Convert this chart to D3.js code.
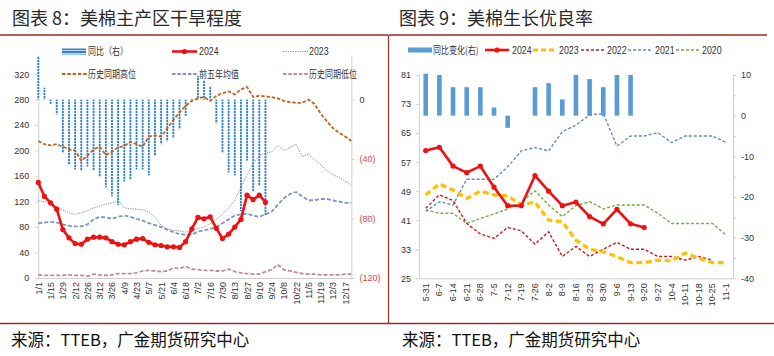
<!DOCTYPE html>
<html><head><meta charset="utf-8">
<script src="https://cdn.jsdelivr.net/npm/d3@7"></script>
<style>
body{margin:0;background:#fff;}
svg{display:block;}
text{font-family:"Liberation Sans",Arial,sans-serif;}
</style></head><body>
<svg id="c" width="774" height="356"></svg>
<script>
// ---------- Data: 图表8 美棉主产区干旱程度 ----------
const weeks = ("1/1 1/8 1/15 1/22 1/29 2/5 2/12 2/19 2/26 3/5 3/12 3/19 3/26 4/2 4/9 4/16 4/23 4/30 " +
  "5/7 5/14 5/21 5/28 6/4 6/11 6/18 6/25 7/2 7/9 7/16 7/23 7/30 8/6 8/13 8/20 8/27 9/3 9/10 9/17 9/24 " +
  "10/1 10/8 10/15 10/22 10/29 11/5 11/12 11/19 11/26 12/3 12/10 12/17 12/24").split(" ");
const dryYoY = [29, 8, -3, -10, -36, -44, -47, -48, -45, -48, -52, -59, -65, -71, -55, -54, -47, -47, -51, -38,
  -30, -28, -26, -20, -11, 1, 16, 13, 9, -16, -36, -49, -51, -75, -41, -62, -58, -78];
const dry2024 = [150, 128, 118, 108, 76, 63, 54, 53, 61, 64, 64, 63, 57, 53, 52, 57, 61, 62, 56, 52,
  51, 49, 49, 48, 57, 77, 95, 93, 96, 78, 62, 69, 80, 92, 130, 123, 130, 119];
const dry2023 = [121, 120, 117, 112, 107, 102, 100, 102, 106, 110, 113, 116, 118, 122, 110, 109, 108, 107, 104, 95,
  83, 77, 75, 74, 72, 74, 78, 80, 85, 92, 100, 110, 122, 142, 162, 180, 192, 196, 198, 208,
  200, 205, 210, 190, 195, 185, 178, 168, 162, 158, 152, 146];
const dryHigh = [215, 210, 208, 210, 206, 202, 200, 184, 192, 202, 206, 193, 198, 205, 207, 214, 210, 206, 222, 224,
  222, 235, 248, 260, 270, 278, 282, 284, 278, 286, 290, 293, 288, 296, 300, 284, 286, 285, 284, 282,
  278, 276, 275, 275, 280, 273, 258, 246, 235, 228, 222, 215];
const dryAvg5 = [86, 87, 88, 87, 84, 82, 81, 81, 84, 92, 96, 95, 93, 96, 98, 96, 93, 90, 86, 83,
  80, 76, 72, 69, 68, 68, 73, 75, 77, 80, 86, 92, 98, 100, 101, 98, 96, 100, 104, 115,
  125, 132, 135, 128, 122, 122, 124, 124, 122, 120, 118, 118];
const dryLow = [5, 4, 4, 4, 4, 5, 4, 4, 3, 6, 5, 4, 5, 7, 7, 7, 8, 11, 12, 11,
  10, 11, 16, 15, 18, 14, 13, 12, 12, 11, 11, 14, 10, 8, 7, 6, 6, 10, 13, 21,
  13, 11, 9, 7, 6, 6, 5, 5, 5, 5, 6, 6];
const dryLeftTicks = [0, 40, 80, 120, 160, 200, 240, 280, 320];
const dryRightTicks = [-120, -80, -40, 0];

// ---------- Data: 图表9 美棉生长优良率 ----------
const gDates = ["5-31","6-7","6-14","6-21","6-28","7-5","7-12","7-19","7-26","8-2","8-9","8-16",
  "8-23","8-30","9-6","9-13","9-20","9-27","10-4","10-11","10-18","10-25","11-1"];
const gYoY  = [10.3, 10, 7, 7, 7, 2, -3, 0, 7, 8, 4, 10, 9, 7, 10, 10];
const g2024 = [60.2, 61.1, 55.9, 54.1, 55.9, 50.1, 45, 45, 53.3, 49, 45, 46, 42, 40, 44, 40, 39];
const g2023 = [48, 51, 49.3, 47, 49, 48, 47.7, 45.2, 46, 41, 40.6, 35.5, 33, 32.3, 31, 29.3, 29.3, 30, 29.8, 32, 30.5, 29.3, 29.3];
const g2022 = [44.3, 48, 46.4, 40.1, 37.2, 36, 39, 38.1, 34.4, 37.8, 31, 33.8, 31, 33, 34.9, 33, 33, 31, 31, 30, 31, 30];
const g2021 = [43.4, 46.1, 45.2, 52.3, 52.3, 52.3, 55.7, 60.1, 61, 60.1, 65.4, 67.2, 70, 70.4, 61.4, 64.2, 64.2, 65.1, 62.4, 64.2, 64.2, 64.2, 62.4];
const g2020 = [43.8, 42.9, 42.9, 40.1, 41.5, 42.7, 44.1, 46.1, 49.1, 45.2, 42, 45, 46.1, 44.1, 45.2, 45.2, 45.2, 42.9, 40.1, 40.1, 40.1, 40.1, 36.9];
const gLeftTicks = [25, 33, 41, 49, 57, 65, 73, 81];
const gRightTicks = [-40, -35, -30, -25, -20, -15, -10, -5, 0, 5, 10];

// ---------- Drawing ----------
const svg = d3.select("#c");
const FRAME = "#9E2A2B";
const AX = "#D0D0D0";
const TXT = "#333";
const CJK = '"Noto Sans CJK SC","Liberation Sans",sans-serif';
const NARROW = '"Liberation Sans Narrow","Liberation Sans",Arial,sans-serif';

// frame
svg.append("line").attr("x1", 0).attr("x2", 388).attr("y1", 35).attr("y2", 35).attr("stroke", FRAME).attr("stroke-width", 1.3);
svg.append("line").attr("x1", 389).attr("x2", 767).attr("y1", 35).attr("y2", 35).attr("stroke", FRAME).attr("stroke-width", 1.3);
svg.append("line").attr("x1", 388.5).attr("x2", 388.5).attr("y1", 35).attr("y2", 323).attr("stroke", FRAME).attr("stroke-width", 1.2);
svg.append("line").attr("x1", 0).attr("x2", 774).attr("y1", 323.5).attr("y2", 323.5).attr("stroke", FRAME).attr("stroke-width", 1.3);

// titles & footers
function bigText(x, y, s) {
  svg.append("text").attr("x", x).attr("y", y).text(s)
    .style("font-family", CJK).attr("font-size", 18).attr("fill", "#2a2a2a");
}
bigText(12, 25, "图表 8：美棉主产区干旱程度");
bigText(399, 25, "图表 9：美棉生长优良率");
function footText(x, y, s) {
  svg.append("text").attr("x", x).attr("y", y).text(s)
    .style("font-family", CJK).attr("font-size", 16.5).attr("fill", "#111");
}
footText(11, 346, "来源：TTEB，广金期货研究中心");
footText(402, 346, "来源：TTEB，广金期货研究中心");

// squeezed legend text
function legText(g, x, y, s, cjk) {
  g.append("text").attr("transform", `translate(${x},${y}) scale(0.8,1)`)
    .attr("dy", "0.35em").text(s)
    .style("font-family", cjk ? CJK : NARROW)
    .attr("font-size", cjk ? 10 : 11).attr("fill", TXT);
}

// ================= Left chart =================
const L = svg.append("g");
const xL = d3.scalePoint().domain(weeks).range([38.3, 351.4]);
const yL = d3.scaleLinear().domain([0, 350]).range([278, 55]);
const yR = d3.scaleLinear().domain([-120, 30]).range([278, 55]);

// bar pattern (dotted blue fill)
const defs = svg.append("defs");
const pat = defs.append("pattern").attr("id", "barpat").attr("patternUnits", "userSpaceOnUse")
  .attr("width", 3).attr("height", 3);
pat.append("rect").attr("width", 3).attr("height", 2).attr("fill", "#2F80C6");
pat.append("rect").attr("y", 2).attr("width", 3).attr("height", 1).attr("fill", "#C4DCF1");

// axes
const axL = L.append("g").attr("transform", `translate(${xL.range()[0]},0)`)
  .call(d3.axisLeft(yL).tickValues(dryLeftTicks).tickSize(3).tickSizeOuter(0).tickPadding(6));
const axR = L.append("g").attr("transform", `translate(${xL.range()[1]},0)`)
  .call(d3.axisRight(yR).tickValues(dryRightTicks).tickSize(3).tickSizeOuter(0).tickPadding(5)
    .tickFormat(d => d < 0 ? `(${-d})` : d));
axR.selectAll(".tick text").attr("fill", d => d < 0 ? "#E0453C" : TXT);
const axB = L.append("g").attr("transform", `translate(0,${yL(0)})`)
  .call(d3.axisBottom(xL).tickValues(weeks.filter((d, i) => i % 2 === 0)).tickSize(0).tickSizeOuter(0));
axB.selectAll(".tick text").attr("transform", "translate(0,4) rotate(-90)")
  .attr("text-anchor", "end").attr("x", 0).attr("y", 0).attr("dy", "0.33em");
[axL, axR, axB].forEach(a => {
  a.select(".domain").attr("stroke", AX);
  a.selectAll(".tick line").attr("stroke", AX);
  a.selectAll(".tick text").attr("font-size", 9).style("font-family", '"Liberation Sans",Arial,sans-serif');
});
axL.selectAll(".tick text").attr("fill", TXT);
axB.selectAll(".tick text").attr("fill", TXT);

// bars (right axis)
L.append("g").selectAll("rect").data(dryYoY).join("rect")
  .attr("x", (d, i) => xL(weeks[i]) - 0.9)
  .attr("width", 1.8)
  .attr("y", d => Math.min(yR(d), yR(0)))
  .attr("height", d => Math.abs(yR(d) - yR(0)))
  .attr("fill", "url(#barpat)");

const lineL = d3.line().x((d, i) => xL(weeks[i])).y(d => yL(d));
function pathL(data, color, w, dash) {
  L.append("path").datum(data).attr("d", lineL).attr("fill", "none")
    .attr("stroke", color).attr("stroke-width", w).attr("stroke-dasharray", dash)
    .attr("stroke-linejoin", "round");
}
pathL(dryLow, "#C7879A", 1.8, "4,2");
pathL(dryAvg5, "#7C96C2", 1.8, "4,2");
pathL(dry2023, "#808080", 0.9, "1.2,1.2");
pathL(dryHigh, "#C2631F", 1.8, "3.5,1.8");
pathL(dry2024, "#F01010", 2.6, null);
L.append("g").selectAll("circle").data(dry2024).join("circle")
  .attr("cx", (d, i) => xL(weeks[i])).attr("cy", d => yL(d)).attr("r", 2.6).attr("fill", "#F01010");

// legend left
const LG = svg.append("g");
LG.append("rect").attr("x", 62).attr("y", 48.5).attr("width", 24).attr("height", 6).attr("fill", "url(#barpat)");
legText(LG, 88, 51.5, "同比（右）", true);
LG.append("line").attr("x1", 172).attr("x2", 197).attr("y1", 51.5).attr("y2", 51.5).attr("stroke", "#F01010").attr("stroke-width", 2.6);
LG.append("circle").attr("cx", 184.5).attr("cy", 51.5).attr("r", 2.6).attr("fill", "#F01010");
legText(LG, 199, 51.5, "2024", false);
LG.append("line").attr("x1", 283).attr("x2", 308).attr("y1", 51.5).attr("y2", 51.5).attr("stroke", "#808080").attr("stroke-width", 0.9).attr("stroke-dasharray", "1.2,1.2");
legText(LG, 309, 51.5, "2023", false);
const row2 = [["历史同期高位", "#C2631F", 62, 88], ["前五年均值", "#7C96C2", 172, 199], ["历史同期低位", "#C7879A", 283, 309]];
row2.forEach(([t, c, x0, tx]) => {
  LG.append("line").attr("x1", x0).attr("x2", x0 + 25).attr("y1", 74).attr("y2", 74)
    .attr("stroke", c).attr("stroke-width", 1.8).attr("stroke-dasharray", "3.5,1.8");
  legText(LG, tx, 74, t, true);
});

// ================= Right chart =================
const R = svg.append("g");
const xG = d3.scaleBand().domain(gDates).range([418.9, 733]);
const cx = d => xG(d) + xG.bandwidth() / 2;
const yG = d3.scaleLinear().domain([25, 81]).range([278.3, 75]);
const yC = d3.scaleLinear().domain([-40, 10]).range([278.3, 75]);

const gaL = R.append("g").attr("transform", `translate(418.9,0)`)
  .call(d3.axisLeft(yG).tickValues(gLeftTicks).tickSize(3).tickSizeOuter(0).tickPadding(5));
const gaR = R.append("g").attr("transform", `translate(733,0)`)
  .call(d3.axisRight(yC).tickValues(gRightTicks).tickSize(3).tickSizeOuter(0).tickPadding(5)
    .tickFormat(d => d % 10 === 0 ? d : ""));
const gaB = R.append("g").attr("transform", `translate(0,${yG(25)})`)
  .call(d3.axisBottom(xG).tickSize(0).tickSizeOuter(0));
gaB.selectAll(".tick text").attr("transform", "translate(0,5) rotate(-90)")
  .attr("text-anchor", "end").attr("x", 0).attr("y", 0).attr("dy", "0.33em");
[gaL, gaR, gaB].forEach(a => {
  a.select(".domain").attr("stroke", AX);
  a.selectAll(".tick line").attr("stroke", AX);
  a.selectAll(".tick text").attr("font-size", 9).attr("fill", TXT)
    .style("font-family", '"Liberation Sans",Arial,sans-serif');
});

// bars
R.append("g").selectAll("rect").data(gYoY).join("rect")
  .attr("x", (d, i) => cx(gDates[i]) - 2.3)
  .attr("width", 4.6)
  .attr("y", d => Math.min(yC(d), yC(0)))
  .attr("height", d => Math.abs(yC(d) - yC(0)))
  .attr("fill", "#5B9BD5");

const lineG = d3.line().x((d, i) => cx(gDates[i])).y(d => yG(d));
function pathG(data, color, w, dash) {
  R.append("path").datum(data).attr("d", lineG).attr("fill", "none")
    .attr("stroke", color).attr("stroke-width", w).attr("stroke-dasharray", dash)
    .attr("stroke-linejoin", "round");
}
pathG(g2020, "#70AD47", 1.4, "3,2");
pathG(g2021, "#5A8DC6", 1.4, "3,2");
pathG(g2022, "#D01818", 1.4, "3,2");
pathG(g2023, "#FFC000", 3.2, "6,3.5");
pathG(g2024, "#F01010", 2.6, null);
R.append("g").selectAll("circle").data(g2024).join("circle")
  .attr("cx", (d, i) => cx(gDates[i])).attr("cy", d => yG(d)).attr("r", 2.6).attr("fill", "#F01010");

// legend right
const RG = svg.append("g");
const ly = 50;
RG.append("rect").attr("x", 408).attr("y", ly - 2.5).attr("width", 24).attr("height", 5).attr("fill", "#5B9BD5");
legText(RG, 433, ly, "同比变化(右)", true);
RG.append("line").attr("x1", 485).attr("x2", 509).attr("y1", ly).attr("y2", ly).attr("stroke", "#F01010").attr("stroke-width", 2.6);
RG.append("circle").attr("cx", 497).attr("cy", ly).attr("r", 2.6).attr("fill", "#F01010");
legText(RG, 512, ly, "2024", false);
const rl = [["2023", "#FFC000", 3, "5,3", 533, 559], ["2022", "#D01818", 1.4, "3,2", 581, 607],
  ["2021", "#5A8DC6", 1.4, "3,2", 628, 655], ["2020", "#70AD47", 1.4, "3,2", 676, 702]];
rl.forEach(([t, c, w, da, x0, tx]) => {
  RG.append("line").attr("x1", x0).attr("x2", x0 + 23).attr("y1", ly).attr("y2", ly)
    .attr("stroke", c).attr("stroke-width", w).attr("stroke-dasharray", da);
  legText(RG, tx, ly, t, false);
});
</script>
</body></html>
